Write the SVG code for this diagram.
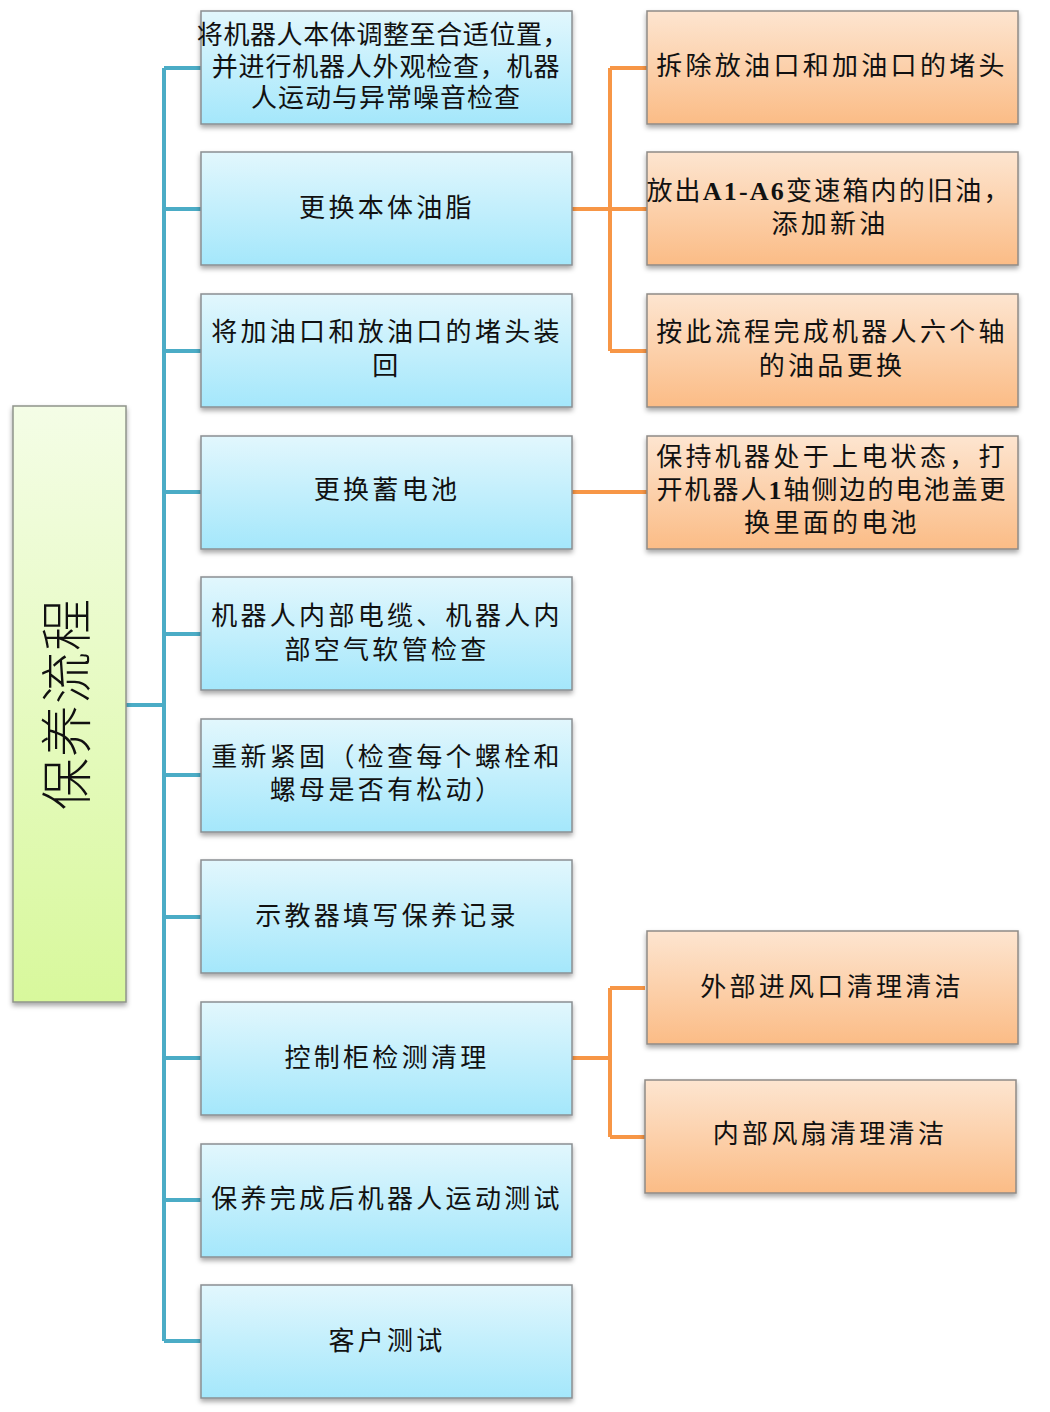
<svg xmlns="http://www.w3.org/2000/svg" width="1050" height="1412" viewBox="0 0 1050 1412">
<defs>
<linearGradient id="gBlue" x1="0" y1="0" x2="0" y2="1"><stop offset="0" stop-color="#e2f7fd"/><stop offset="1" stop-color="#a4e7fb"/></linearGradient>
<linearGradient id="gOrange" x1="0" y1="0" x2="0" y2="1"><stop offset="0" stop-color="#fde5d0"/><stop offset="1" stop-color="#fbbc86"/></linearGradient>
<linearGradient id="gGreen" x1="0" y1="0" x2="0" y2="1"><stop offset="0" stop-color="#f4fde6"/><stop offset="1" stop-color="#d8f89c"/></linearGradient>
<filter id="sh" x="-5%" y="-10%" width="110%" height="130%"><feDropShadow dx="0" dy="3" stdDeviation="2.5" flood-color="#000" flood-opacity="0.35"/></filter>
</defs>
<style>
.b{fill:url(#gBlue);stroke:#8a8f92;stroke-width:1.5;filter:url(#sh)}
.o{fill:url(#gOrange);stroke:#8f8a86;stroke-width:1.5;filter:url(#sh)}
.g{fill:url(#gGreen);stroke:#8f948a;stroke-width:1.5;filter:url(#sh)}
text{font-family:"Liberation Serif","Noto Sans CJK SC",serif;font-size:26px;fill:#111;text-anchor:middle;letter-spacing:3.3px}
.cb{fill:none;stroke:#4bacc6;stroke-width:4}
.co{fill:none;stroke:#f79646;stroke-width:4}
</style>
<rect width="1050" height="1412" fill="#fff"/>
<g id="connectors">
<path class="cb" d="M126 705H164M164 68V1341M164 68H201M164 209H201M164 351H201M164 492H201M164 634H201M164 775H201M164 917H201M164 1058H201M164 1200H201M164 1341H201"/>
<path class="co" d="M572 209H610M610 68V351M610 68H647M610 209H647M610 351H647"/>
<path class="co" d="M572 492H647"/>
<path class="co" d="M572 1058H610M610 988V1137M610 988H645M610 1137H645"/>
</g>
<g id="root"><rect class="g" x="13" y="406" width="113" height="596"/><text style="font-size:52px;letter-spacing:1px;font-weight:300" transform="rotate(-90 68 704)" x="68" y="722">保养流程</text></g>
<g id="n1"><rect class="b" x="201" y="11" width="371" height="113"/><text x="383" y="44" style="letter-spacing:0.6px">将机器人本体调整至合适位置，</text><text x="386" y="76" style="letter-spacing:0.8px">并进行机器人外观检查，机器</text><text x="386" y="107" style="letter-spacing:1px">人运动与异常噪音检查</text></g>
<g id="n2"><rect class="b" x="201" y="152" width="371" height="113"/><text x="387" y="217">更换本体油脂</text></g>
<g id="n3"><rect class="b" x="201" y="294" width="371" height="113"/><text x="387" y="341">将加油口和放油口的堵头装</text><text x="387" y="375">回</text></g>
<g id="n4"><rect class="b" x="201" y="436" width="371" height="113"/><text x="387" y="499">更换蓄电池</text></g>
<g id="n5"><rect class="b" x="201" y="577" width="371" height="113"/><text x="387" y="625">机器人内部电缆、机器人内</text><text x="387" y="659">部空气软管检查</text></g>
<g id="n6"><rect class="b" x="201" y="719" width="371" height="113"/><text x="387" y="766">重新紧固（检查每个螺栓和</text><text x="387" y="799">螺母是否有松动）</text></g>
<g id="n7"><rect class="b" x="201" y="860" width="371" height="113"/><text x="387" y="925">示教器填写保养记录</text></g>
<g id="n8"><rect class="b" x="201" y="1002" width="371" height="113"/><text x="387" y="1067">控制柜检测清理</text></g>
<g id="n9"><rect class="b" x="201" y="1144" width="371" height="113"/><text x="387" y="1208">保养完成后机器人运动测试</text></g>
<g id="n10"><rect class="b" x="201" y="1285" width="371" height="113"/><text x="387" y="1350">客户测试</text></g>
<g id="o1"><rect class="o" x="647" y="11" width="371" height="113"/><text x="832" y="75">拆除放油口和加油口的堵头</text></g>
<g id="o2"><rect class="o" x="647" y="152" width="371" height="113"/><text x="829" y="200" style="letter-spacing:2.2px">放出<tspan font-weight="bold">A1-A6</tspan>变速箱内的旧油，</text><text x="830" y="233">添加新油</text></g>
<g id="o3"><rect class="o" x="647" y="294" width="371" height="113"/><text x="832" y="341">按此流程完成机器人六个轴</text><text x="832" y="375">的油品更换</text></g>
<g id="o4"><rect class="o" x="647" y="436" width="371" height="113"/><text x="832" y="466">保持机器处于上电状态，打</text><text x="832" y="499" style="letter-spacing:2px">开机器人<tspan font-weight="bold">1</tspan>轴侧边的电池盖更</text><text x="832" y="532">换里面的电池</text></g>
<g id="o5"><rect class="o" x="647" y="931" width="371" height="113"/><text x="832" y="996">外部进风口清理清洁</text></g>
<g id="o6"><rect class="o" x="645" y="1080" width="371" height="113"/><text x="830" y="1143">内部风扇清理清洁</text></g>
</svg>
